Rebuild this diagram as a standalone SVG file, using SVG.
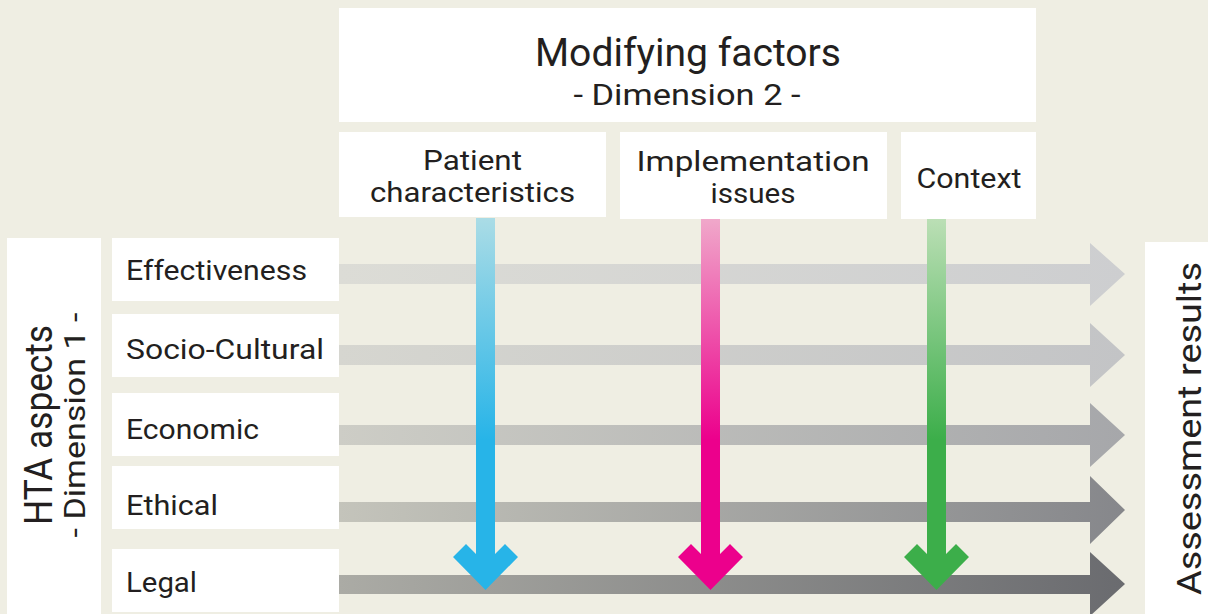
<svg xmlns="http://www.w3.org/2000/svg" width="1208" height="614" viewBox="0 0 1208 614">
<style>
.box{fill:#ffffff}
.t{font-family:Roboto,"Liberation Sans",sans-serif;fill:#231f20}
.row{font-size:28px}
.two{font-size:27px}
.mid{text-anchor:middle}
</style>
<defs>
<linearGradient id="gh1" gradientUnits="userSpaceOnUse" x1="339" y1="0" x2="1125" y2="0"><stop offset="0" stop-color="#dcdcd6"/><stop offset="1" stop-color="#cdced0"/></linearGradient>
<linearGradient id="gh2" gradientUnits="userSpaceOnUse" x1="339" y1="0" x2="1125" y2="0"><stop offset="0" stop-color="#d6d6d0"/><stop offset="1" stop-color="#c3c4c6"/></linearGradient>
<linearGradient id="gh3" gradientUnits="userSpaceOnUse" x1="339" y1="0" x2="1125" y2="0"><stop offset="0" stop-color="#cdcdc6"/><stop offset="1" stop-color="#a6a7aa"/></linearGradient>
<linearGradient id="gh4" gradientUnits="userSpaceOnUse" x1="339" y1="0" x2="1125" y2="0"><stop offset="0" stop-color="#c4c4bb"/><stop offset="1" stop-color="#86878b"/></linearGradient>
<linearGradient id="gh5" gradientUnits="userSpaceOnUse" x1="339" y1="0" x2="1125" y2="0"><stop offset="0" stop-color="#ababa5"/><stop offset="1" stop-color="#6a6b6f"/></linearGradient>
<linearGradient id="gvb" gradientUnits="userSpaceOnUse" x1="0" y1="219" x2="0" y2="440"><stop offset="0" stop-color="#aadce6"/><stop offset="1" stop-color="#27b4e8"/></linearGradient>
<linearGradient id="gvp" gradientUnits="userSpaceOnUse" x1="0" y1="219" x2="0" y2="440"><stop offset="0" stop-color="#f0a8ca"/><stop offset="1" stop-color="#ec008c"/></linearGradient>
<linearGradient id="gvg" gradientUnits="userSpaceOnUse" x1="0" y1="219" x2="0" y2="440"><stop offset="0" stop-color="#bbdfb5"/><stop offset="1" stop-color="#3cae4a"/></linearGradient>
</defs>
<rect x="0" y="0" width="1208" height="614" fill="#efeee3"/>

<g id="connectors">
<path d="M339,264 H1090 V243 L1125,274 L1090,306 V284 H339 Z" fill="url(#gh1)"/>
<path d="M339,345 H1090 V323 L1125,355 L1090,387 V365 H339 Z" fill="url(#gh2)"/>
<path d="M339,425 H1090 V403 L1125,435 L1090,467 V445 H339 Z" fill="url(#gh3)"/>
<path d="M339,502 H1090 V476 L1125,510 L1090,544 V522 H339 Z" fill="url(#gh4)"/>
<path d="M339,575 H1090 V552 L1125,584 L1090,616 V594 H339 Z" fill="url(#gh5)"/>
<path d="M476,218 H495 V554 L505,544 L518,557 L485.5,590 L453,557 L466,544 L476,554 Z" fill="url(#gvb)"/>
<path d="M701,218 H720 V554 L730,544 L743,557 L710.5,590 L678,557 L691,544 L701,554 Z" fill="url(#gvp)"/>
<path d="M927,218 H946 V554 L956,544 L969,557 L936.5,590 L904,557 L917,544 L927,554 Z" fill="url(#gvg)"/>
</g>

<g id="modifying-factors">
<rect class="box" x="339" y="8" width="697" height="114"/>
<text class="t mid" x="688" y="66" font-size="38" textLength="306" lengthAdjust="spacingAndGlyphs">Modifying factors</text>
<text class="t mid" x="687" y="105" font-size="29" textLength="227" lengthAdjust="spacingAndGlyphs">- Dimension 2 -</text>
</g>
<g id="patient-characteristics">
<rect class="box" x="339" y="132" width="267" height="85"/>
<text class="t two mid" x="472.5" y="170" textLength="99" lengthAdjust="spacingAndGlyphs">Patient</text>
<text class="t two mid" x="472.5" y="202" textLength="205" lengthAdjust="spacingAndGlyphs">characteristics</text>
</g>
<g id="implementation-issues">
<rect class="box" x="620" y="132" width="267" height="87"/>
<text class="t two mid" x="753" y="171" textLength="233" lengthAdjust="spacingAndGlyphs">Implementation</text>
<text class="t two mid" x="753" y="203" textLength="85" lengthAdjust="spacingAndGlyphs">issues</text>
</g>
<g id="context">
<rect class="box" x="901" y="132" width="135" height="87"/>
<text class="t row mid" x="969" y="188" textLength="105" lengthAdjust="spacingAndGlyphs">Context</text>
</g>

<g id="hta-aspects">
<rect class="box" x="7" y="238" width="94" height="376"/>
<text class="t mid" transform="translate(52,425) rotate(-90)" font-size="39" textLength="200" lengthAdjust="spacingAndGlyphs">HTA aspects</text>
<text class="t mid" transform="translate(85,425) rotate(-90)" font-size="29" textLength="225" lengthAdjust="spacingAndGlyphs">- Dimension 1 -</text>
</g>
<g id="effectiveness">
<rect class="box" x="112" y="238" width="227" height="63"/>
<text class="t row" x="126" y="280" textLength="181" lengthAdjust="spacingAndGlyphs">Effectiveness</text>
</g>
<g id="socio-cultural">
<rect class="box" x="112" y="314" width="227" height="63"/>
<text class="t row" x="126" y="359" textLength="198" lengthAdjust="spacingAndGlyphs">Socio-Cultural</text>
</g>
<g id="economic">
<rect class="box" x="112" y="393" width="227" height="63"/>
<text class="t row" x="126" y="439" textLength="133" lengthAdjust="spacingAndGlyphs">Economic</text>
</g>
<g id="ethical">
<rect class="box" x="112" y="466" width="227" height="63"/>
<text class="t row" x="126" y="515" textLength="92" lengthAdjust="spacingAndGlyphs">Ethical</text>
</g>
<g id="legal">
<rect class="box" x="112" y="549" width="227" height="63"/>
<text class="t row" x="126" y="592" textLength="71" lengthAdjust="spacingAndGlyphs">Legal</text>
</g>

<g id="assessment-results">
<rect class="box" x="1145" y="242" width="63" height="372"/>
<text class="t mid" transform="translate(1201,428.5) rotate(-90)" font-size="33" textLength="333" lengthAdjust="spacingAndGlyphs">Assessment results</text>
</g>
</svg>
